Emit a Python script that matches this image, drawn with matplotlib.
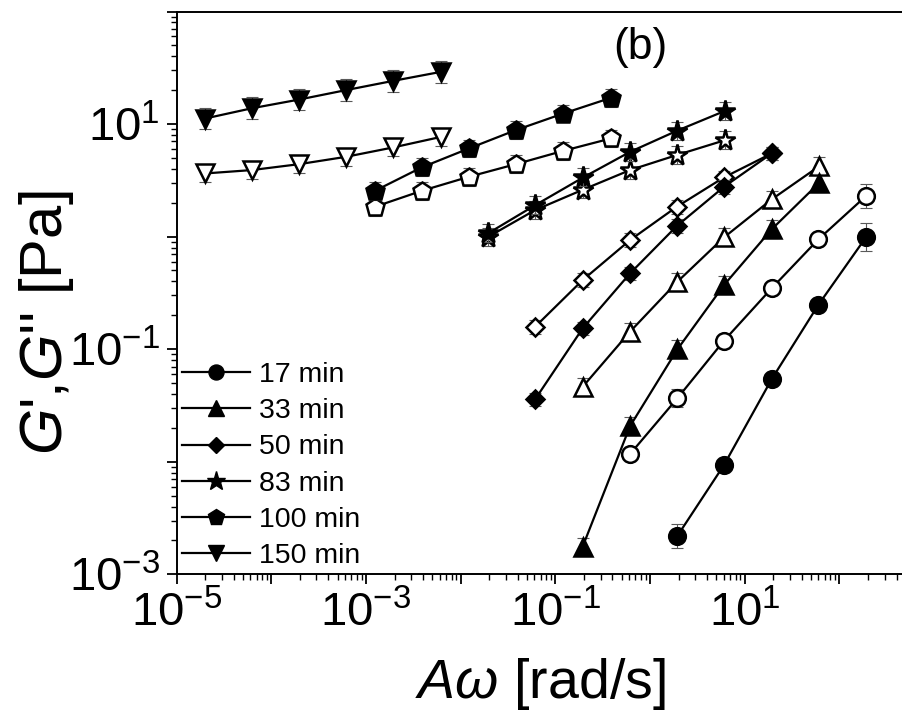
import numpy as np
import matplotlib
matplotlib.use("Agg")
import matplotlib.pyplot as plt
from matplotlib.ticker import FixedLocator, FuncFormatter, LogLocator, NullFormatter
from matplotlib.lines import Line2D

plt.rcParams["font.family"] = ["Liberation Sans", "DejaVu Sans"]
plt.rcParams["mathtext.fontset"] = "custom"
plt.rcParams["mathtext.rm"] = "Liberation Sans"
plt.rcParams["mathtext.it"] = "Liberation Sans:italic"
plt.rcParams["mathtext.default"] = "regular"

# Shifted frequency A*omega [rad/s] and moduli [Pa] for each gelation time
labels = ["17 min", "33 min", "50 min", "83 min", "100 min", "150 min"]
markers = ["o", "^", "D", "*", "p", "v"]

t17_x_gp = [1.94, 6.03, 19.2, 59.7, 190.0]
t17_gp = [0.00219, 0.00935, 0.054, 0.247, 0.984]
t17_gp_err = [1.28, 1.12, 1.12, 1.12, 1.33]
t17_x_gpp = [0.614, 1.94, 6.03, 19.2, 59.7, 190.0]
t17_gpp = [0.0117, 0.0366, 0.119, 0.347, 0.944, 2.29]
t17_gpp_err = [1.12, 1.2, 1.12, 1.12, 1.12, 1.28]

t33_x = [0.194, 0.614, 1.94, 6.03, 19.2, 61.2]
t33_gp = [0.00176, 0.0207, 0.0995, 0.371, 1.16, 3.01]
t33_gp_err = [1.2, 1.2, 1.2, 1.2, 1.2, 1.2]
t33_gpp = [0.0463, 0.143, 0.397, 0.984, 2.14, 4.23]
t33_gpp_err = [1.2, 1.2, 1.2, 1.2, 1.2, 1.2]

t50_x = [0.061, 0.194, 0.614, 1.91, 6.03, 19.2]
t50_gp = [0.0358, 0.153, 0.471, 1.24, 2.77, 5.48]
t50_gp_err = [1.15, 1.15, 1.15, 1.15, 1.15, 1.15]
t50_gpp = [0.158, 0.411, 0.931, 1.84, 3.36, 5.48]
t50_gpp_err = [1.15, 1.15, 1.15, 1.15, 1.15, 1.15]

t83_x = [0.0195, 0.061, 0.197, 0.614, 1.91, 6.18]
t83_gp = [1.07, 1.90, 3.36, 5.66, 8.70, 13.1]
t83_gp_err = [1.2, 1.2, 1.2, 1.2, 1.2, 1.2]
t83_gpp = [0.995, 1.72, 2.62, 3.90, 5.30, 7.19]
t83_gpp_err = [1.2, 1.2, 1.2, 1.2, 1.2, 1.2]

t100_x = [0.00124, 0.00387, 0.0122, 0.0381, 0.121, 0.386]
t100_gp = [2.55, 4.12, 6.07, 8.83, 12.4, 17.1]
t100_gp_err = [1.2, 1.2, 1.2, 1.2, 1.2, 1.2]
t100_gpp = [1.84, 2.55, 3.40, 4.40, 5.78, 7.45]
t100_gpp_err = [1.2, 1.2, 1.2, 1.2, 1.2, 1.2]

t150_x = [2.0e-5, 6.2e-5, 1.96e-4, 6.1e-4, 1.94e-3, 6.2e-3]
t150_gp = [11.2, 13.8, 16.5, 20.0, 24.2, 29.1]
t150_gp_err = [1.25, 1.25, 1.25, 1.25, 1.25, 1.25]
t150_gpp = [3.64, 3.90, 4.40, 5.11, 6.20, 7.69]
t150_gpp_err = [1.2, 1.2, 1.2, 1.2, 1.2, 1.2]

storage = [
    (t17_x_gp, t17_gp, t17_gp_err),
    (t33_x, t33_gp, t33_gp_err),
    (t50_x, t50_gp, t50_gp_err),
    (t83_x, t83_gp, t83_gp_err),
    (t100_x, t100_gp, t100_gp_err),
    (t150_x, t150_gp, t150_gp_err),
]
loss = [
    (t17_x_gpp, t17_gpp, t17_gpp_err),
    (t33_x, t33_gpp, t33_gpp_err),
    (t50_x, t50_gpp, t50_gpp_err),
    (t83_x, t83_gpp, t83_gpp_err),
    (t100_x, t100_gpp, t100_gpp_err),
    (t150_x, t150_gpp, t150_gpp_err),
]
msizes = {"o": 12, "^": 12.5, "D": 9.2, "*": 15.5, "p": 13.5, "v": 12.5}

fig = plt.figure(figsize=(9.02, 7.19), dpi=100)
ax = fig.add_axes([0.1958, 0.2013, 1 - 0.1958, 0.7827])
ax.set_xscale("log")
ax.set_yscale("log")
ax.set_xlim(1e-5, 10 ** 2.66)
ax.set_ylim(1e-3, 1e2)


def draw(x, y, f, marker, filled, z):
    x = np.asarray(x)
    y = np.asarray(y)
    f = np.asarray(f)
    yerr = [y - y / f, y * f - y]
    ax.errorbar(x, y, yerr=yerr, fmt="none", ecolor="0.35", elinewidth=0.8,
                capsize=4, capthick=0.8, zorder=z)
    ax.plot(x, y, "-", color="black", lw=1.6, marker=marker,
            ms=msizes[marker], mec="black", mew=1.8,
            mfc="black" if filled else "white", zorder=z + 1)


for i, m in enumerate(markers):
    xs, ys, fs = loss[i]
    draw(xs, ys, fs, m, False, 2 + i * 4)
    xs, ys, fs = storage[i]
    draw(xs, ys, fs, m, True, 4 + i * 4)

# Axis styling
for side in ["left", "bottom", "top"]:
    ax.spines[side].set_linewidth(1.4)
ax.spines["right"].set_visible(False)

decades_x = [10.0 ** k for k in range(-5, 3)]
decades_y = [10.0 ** k for k in range(-3, 3)]


def odd_label(v, pos):
    k = int(round(np.log10(v)))
    return r"$10^{%d}$" % k if k % 2 != 0 else ""


ax.xaxis.set_major_locator(FixedLocator(decades_x))
ax.yaxis.set_major_locator(FixedLocator(decades_y))
ax.xaxis.set_major_formatter(FuncFormatter(odd_label))
ax.yaxis.set_major_formatter(FuncFormatter(odd_label))
ax.xaxis.set_minor_locator(LogLocator(base=10, subs=np.arange(2, 10), numticks=20))
ax.yaxis.set_minor_locator(LogLocator(base=10, subs=np.arange(2, 10), numticks=20))
ax.xaxis.set_minor_formatter(NullFormatter())
ax.yaxis.set_minor_formatter(NullFormatter())
ax.tick_params(which="major", direction="out", length=7, width=1.3,
               labelsize=34, pad=5, top=False, right=False)
ax.tick_params(which="minor", direction="out", length=4, width=1.0,
               top=False, right=False)

fig.text(540 / 902, 1 - 684 / 719, r"$\mathit{A\omega}$ [rad/s]", fontsize=40,
         ha="center", va="center")
fig.text(46 / 902, 1 - 323 / 719, r"$\mathit{G}$',$\mathit{G}$'' [Pa]", fontsize=43,
         ha="center", va="center", rotation=90)

fig.text(640 / 902, 1 - 48 / 719, "(b)", fontsize=32, ha="center", va="center")

handles = [Line2D([], [], color="black", lw=1.6, marker=m, ms=msizes[m] * 0.9,
                  mfc="black", mec="black") for m in markers]
ax.legend(handles, labels, loc="upper left", bbox_to_anchor=(182 / 902, 1 - 362 / 719),
          bbox_transform=fig.transFigure, frameon=False, fontsize=20.5,
          handlelength=2.4, handletextpad=0.3, labelspacing=0.36, borderpad=0,
          borderaxespad=0)

fig.savefig("out.png", dpi=100)
